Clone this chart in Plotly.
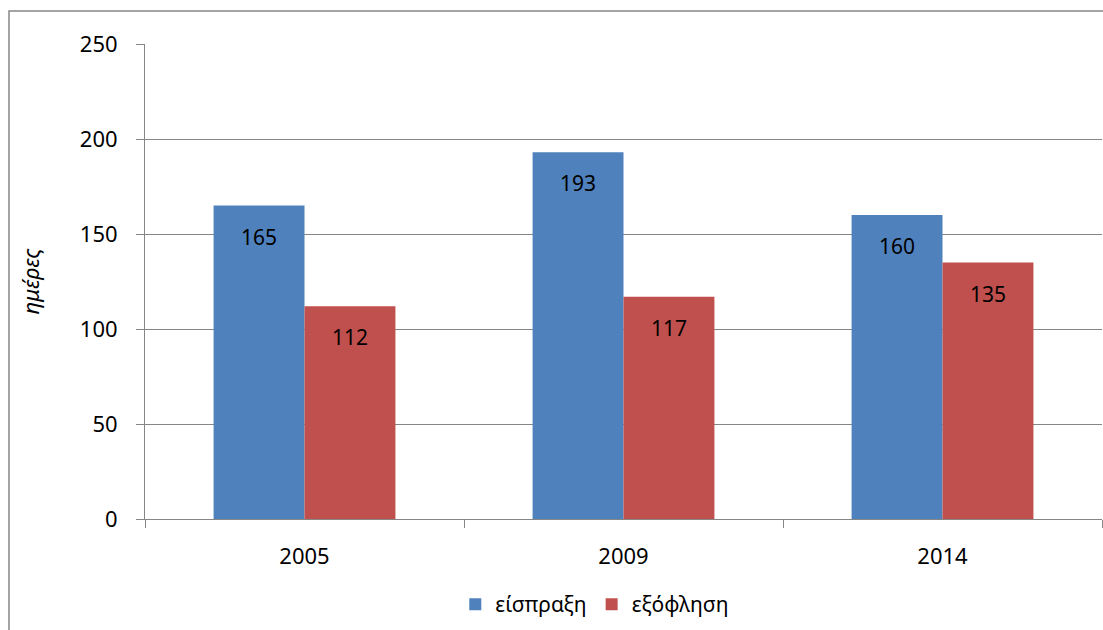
import plotly.graph_objects as go

years = ["2005", "2009", "2014"]
eisprajh = [165, 193, 160]
exoflisi = [112, 117, 135]
series_names = ["είσπραξη", "εξόφληση"]
colors = ["#4F81BD", "#C0504D"]

FONT = "Noto Sans"
W, H = 1103, 630
L, R, T, B = 145, 1, 44, 111
bar_w = 0.285
plot_w = W - L - R

fig = go.Figure()
for name, vals, col, off in [(series_names[0], eisprajh, colors[0], -bar_w),
                             (series_names[1], exoflisi, colors[1], 0)]:
    fig.add_trace(go.Bar(
        x=years, y=vals, name=name,
        marker=dict(color=col, line=dict(width=0)),
        width=bar_w, offset=off,
    ))
    # data labels near the top of each bar
    for i, v in enumerate(vals):
        fig.add_annotation(
            x=i + off + bar_w / 2, y=v, text=str(v), showarrow=False,
            yshift=-31, xref="x", yref="y",
            font=dict(family=FONT, size=21, color="black"),
        )

fig.update_layout(
    width=W, height=H,
    margin=dict(l=L, r=R, t=T, b=B),
    plot_bgcolor="white", paper_bgcolor="white",
    font=dict(family=FONT, size=21, color="black"),
    barmode="group",
    showlegend=True,
    legend=dict(orientation="h", x=0.47, xanchor="center", y=-0.18, yanchor="middle",
                font=dict(family=FONT, size=21), traceorder="normal"),
    xaxis=dict(
        type="category",
        showline=True, linecolor="#868686", linewidth=1,
        ticks="outside", ticklen=8, tickcolor="#868686",
        tickson="boundaries", showgrid=False,
        tickfont=dict(family=FONT, size=22),
        ticklabelstandoff=18,
        range=[-0.5, 2.5],
    ),
    yaxis=dict(
        range=[0, 250], dtick=50,
        showline=True, linecolor="#868686", linewidth=1,
        ticks="outside", ticklen=8, tickcolor="#868686",
        showgrid=True, gridcolor="#868686", gridwidth=1,
        zeroline=False,
        tickfont=dict(family=FONT, size=22),
        title=dict(text="<i>ημέρες</i>", standoff=34, font=dict(family=FONT, size=22)),
        ticklabelstandoff=14,
    ),
    shapes=[dict(
        type="rect", xref="paper", yref="paper",
        x0=(9 - L) / plot_w, x1=1.5,
        y0=-1.0, y1=1 + (T - 11) / (H - T - B),
        line=dict(color="#868686", width=1.5), fillcolor="rgba(0,0,0,0)",
        layer="below",
    )],
)

fig.write_html("out.html", config={"displayModeBar": False},
               post_script="document.body.style.margin='0px';")
